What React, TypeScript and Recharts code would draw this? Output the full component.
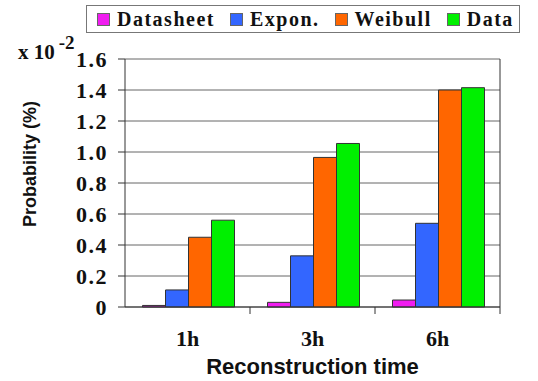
import { BarChart, Bar, XAxis, YAxis, CartesianGrid, Label } from 'recharts'

const categories = ['1h', '3h', '6h']
const datasheet = [0.01, 0.03, 0.045]
const expon = [0.11, 0.33, 0.54]
const weibull = [0.45, 0.965, 1.4]
const measured = [0.56, 1.055, 1.415]
const yTicks = [0, 0.2, 0.4, 0.6, 0.8, 1.0, 1.2, 1.4, 1.6]

const series = [
  { key: 'datasheet', name: 'Datasheet', color: '#f01cf0' },
  { key: 'expon', name: 'Expon.', color: '#3366ff' },
  { key: 'weibull', name: 'Weibull', color: '#ff6600' },
  { key: 'data', name: 'Data', color: '#00f000' },
]

const data = categories.map((c, i) => ({
  time: c,
  datasheet: datasheet[i],
  expon: expon[i],
  weibull: weibull[i],
  data: measured[i],
}))

const serif = '"Liberation Serif", "Times New Roman", serif'
const sans = '"Liberation Sans", Arial, sans-serif'

const W = 538
const H = 381
const M = { top: 59, right: 0, left: 50, bottom: 0 }
const Y_W = 75
const R_W = 38
const PLOT_W = W - M.left - Y_W - R_W
const BAND = PLOT_W / categories.length

function XTick(props: any) {
  const { x, y, payload } = props
  return (
    <g>
      <line x1={x + BAND / 2} x2={x + BAND / 2} y1={y - 8} y2={y - 1} stroke="#333" />
      <text
        x={x}
        y={y + 31}
        textAnchor="middle"
        fontFamily={serif}
        fontWeight="bold"
        fontSize={22}
        fill="#111"
      >
        {payload.value}
      </text>
    </g>
  )
}

function LegendBox() {
  return (
    <div
      style={{
        position: 'absolute',
        top: 5,
        left: 86,
        width: 434,
        display: 'flex',
        alignItems: 'center',
        border: '1px solid #777',
        height: 28,
        boxSizing: 'border-box',
        paddingLeft: 10,
        fontFamily: serif,
        fontWeight: 'bold',
        fontSize: 20,
        letterSpacing: 1.5,
        color: '#111',
        background: '#fff',
      }}
    >
      {series.map((s) => (
        <span key={s.key} style={{ display: 'flex', alignItems: 'center', marginRight: 15 }}>
          <span
            style={{
              width: 11,
              height: 11,
              background: s.color,
              border: '1px solid #666',
              marginRight: 7,
              display: 'inline-block',
            }}
          />
          {s.name}
        </span>
      ))}
    </div>
  )
}

export default function App() {
  return (
    <div style={{ position: 'absolute', left: 0, top: 0, width: W, height: H, background: '#fff' }}>
      <BarChart
        width={W}
        height={H}
        data={data}
        margin={M}
        barCategoryGap="14%"
        barGap={0}
      >
        <CartesianGrid horizontal vertical={false} stroke="#666" />
        <XAxis
          dataKey="time"
          height={74}
          tick={<XTick />}
          tickLine={false}
          axisLine={{ stroke: '#333' }}
          interval={0}
        >
          <Label
            value="Reconstruction time"
            position="insideBottom"
            offset={7}
            style={{ fontFamily: sans, fontWeight: 'bold', fontSize: 22, fill: '#111' }}
          />
        </XAxis>
        <YAxis
          width={Y_W}
          domain={[0, 1.6]}
          ticks={yTicks}
          interval={0}
          tickSize={7}
          tickMargin={10}
          tickLine={{ stroke: '#333' }}
          axisLine={{ stroke: '#333' }}
          tickFormatter={(v: number) => (v === 0 ? '0' : v.toFixed(1))}
          tick={{ fontFamily: serif, fontWeight: 'bold', fontSize: 22, fill: '#111', letterSpacing: 1.5 }}
        />
        <YAxis
          yAxisId="r"
          orientation="right"
          width={R_W}
          domain={[0, 1.6]}
          ticks={yTicks}
          tickSize={3}
          tickFormatter={() => ''}
          tickLine={{ stroke: '#666' }}
          axisLine={{ stroke: '#333' }}
        />
        {series.map((s) => (
          <Bar
            key={s.key}
            dataKey={s.key}
            name={s.name}
            fill={s.color}
            stroke="#333"
            strokeWidth={1}
            isAnimationActive={false}
          />
        ))}
      </BarChart>
      <LegendBox />
      <div
        style={{
          position: 'absolute',
          left: 18,
          top: 34,
          fontFamily: serif,
          fontWeight: 'bold',
          fontSize: 21,
          color: '#111',
        }}
      >
        x 10<sup style={{ fontSize: 19, marginLeft: 4, position: 'relative', top: -2 }}>-2</sup>
      </div>
      <div
        style={{
          position: 'absolute',
          left: 30,
          top: 164,
          transform: 'translate(-50%, -50%) rotate(-90deg)',
          fontFamily: sans,
          fontWeight: 'bold',
          fontSize: 18,
          whiteSpace: 'nowrap',
          color: '#111',
        }}
      >
        Probability (%)
      </div>
    </div>
  )
}
